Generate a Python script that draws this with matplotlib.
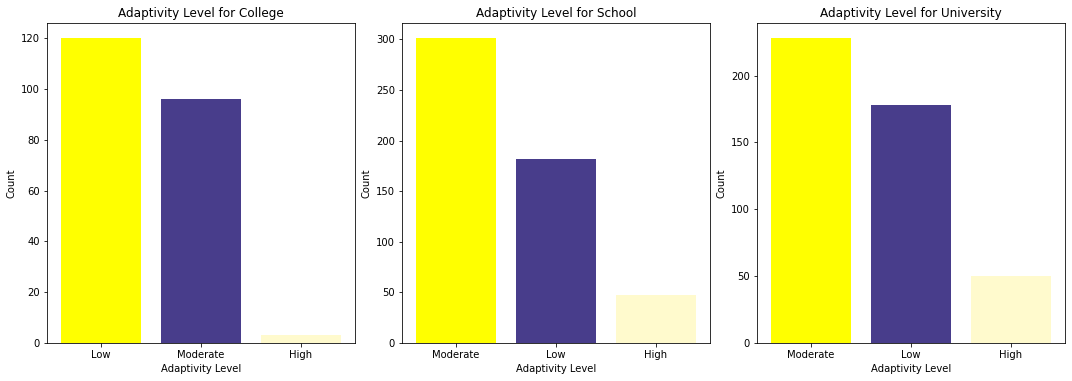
import matplotlib
matplotlib.use('Agg')
import matplotlib.pyplot as plt

# counts per adaptivity level, by institution type
college_levels = ['Low', 'Moderate', 'High']
college_counts = [120, 96, 3]
school_levels = ['Moderate', 'Low', 'High']
school_counts = [301, 182, 47]
univ_levels = ['Moderate', 'Low', 'High']
univ_counts = [228, 178, 50]

titles = ['College', 'School', 'University']
bar_colors = ['yellow', 'darkslateblue', 'lemonchiffon']

fig, axes = plt.subplots(1, 3, figsize=(1072/72, 381/72), dpi=72)
data = [(college_levels, college_counts), (school_levels, school_counts), (univ_levels, univ_counts)]
for ax, name, (levels, counts) in zip(axes, titles, data):
    ax.bar(levels, counts, color=bar_colors)
    ax.set_title('Adaptivity Level for ' + name)
    ax.set_xlabel('Adaptivity Level')
    ax.set_ylabel('Count')

plt.tight_layout(pad=0.7)
plt.savefig('out.png', dpi=72)
